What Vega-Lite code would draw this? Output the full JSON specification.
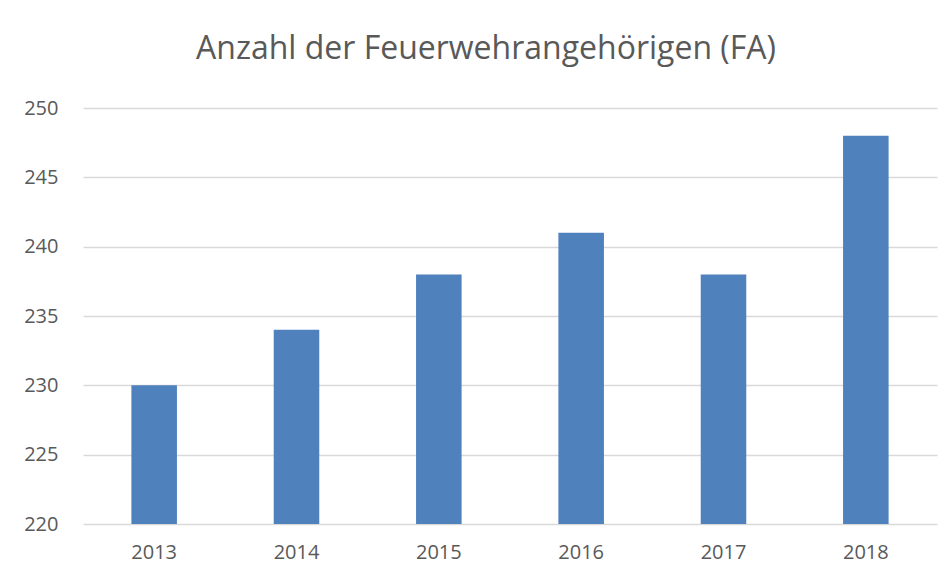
{
  "$schema": "https://vega.github.io/schema/vega-lite/v6.json",
  "width": 854,
  "height": 416,
  "autosize": {"type": "none"},
  "padding": {"left": 83, "top": 108, "right": 15, "bottom": 57},
  "background": "white",
  "title": {
    "text": "Anzahl der Feuerwehrangehörigen (FA)",
    "anchor": "middle",
    "font": "Open Sans",
    "fontSize": 32,
    "fontWeight": "normal",
    "color": "#595959",
    "dx": -24,
    "offset": 32
  },
  "data": {
    "values": [
      {"Jahr": "2013", "Anzahl": 230},
      {"Jahr": "2014", "Anzahl": 234},
      {"Jahr": "2015", "Anzahl": 238},
      {"Jahr": "2016", "Anzahl": 241},
      {"Jahr": "2017", "Anzahl": 238},
      {"Jahr": "2018", "Anzahl": 248}
    ]
  },
  "mark": {"type": "bar", "color": "#4f81bd"},
  "encoding": {
    "x": {
      "field": "Jahr",
      "type": "ordinal",
      "scale": {"paddingInner": 0.68, "paddingOuter": 0.34},
      "axis": {
        "title": null,
        "labelAngle": 0,
        "ticks": false,
        "domain": false,
        "labelFont": "Open Sans",
        "labelFontSize": 20,
        "labelColor": "#595959",
        "labelPadding": 18
      }
    },
    "y": {
      "field": "Anzahl",
      "type": "quantitative",
      "scale": {"domain": [220, 250], "nice": false, "zero": false},
      "axis": {
        "title": null,
        "values": [220, 225, 230, 235, 240, 245, 250],
        "ticks": false,
        "domain": false,
        "grid": true,
        "gridColor": "#d9d9d9",
        "gridWidth": 1.5,
        "labelFont": "Open Sans",
        "labelFontSize": 20,
        "labelColor": "#595959",
        "labelPadding": 25
      }
    },
    "y2": {"datum": 220}
  },
  "config": {"view": {"stroke": null}}
}
